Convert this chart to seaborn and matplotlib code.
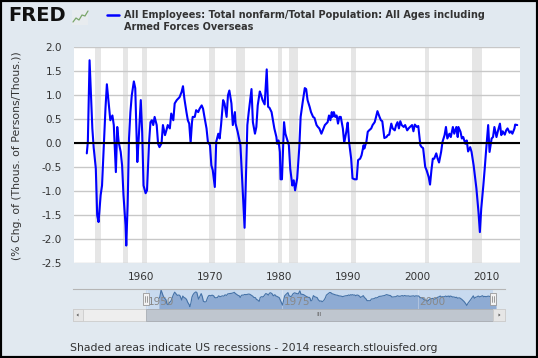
import matplotlib
matplotlib.use("Agg")
import matplotlib.pyplot as plt
import seaborn as sns
import pandas as pd
from matplotlib.patches import Rectangle, Polygon
from matplotlib.lines import Line2D

# ---------------- data ----------------
years = [
    1952.2, 1952.35, 1952.6, 1953.0, 1953.2, 1953.5, 1953.7, 1953.9, 1954.2, 1954.4,
    1954.7, 1954.9, 1955.1, 1955.4, 1955.6, 1955.9, 1956.1, 1956.3, 1956.4, 1956.6,
    1956.8, 1957.1, 1957.3, 1957.5, 1957.8, 1957.9, 1958.1, 1958.3, 1958.5, 1958.7,
    1959.0, 1959.2, 1959.5, 1959.7, 1960.0, 1960.2, 1960.4, 1960.7, 1960.9, 1961.2,
    1961.4, 1961.6, 1961.8, 1962.0, 1962.3, 1962.5, 1962.7, 1963.0, 1963.2, 1963.5,
    1963.7, 1963.9, 1964.2, 1964.4, 1964.7, 1964.9, 1965.2, 1965.4, 1965.6, 1965.9,
    1966.1, 1966.3, 1966.6, 1966.8, 1967.0, 1967.2, 1967.4, 1967.5, 1967.8, 1968.0,
    1968.3, 1968.5, 1968.8, 1969.0, 1969.2, 1969.5, 1969.7, 1970.0, 1970.2, 1970.4,
    1970.7, 1970.9, 1971.2, 1971.4, 1971.6, 1971.9, 1972.1, 1972.4, 1972.6, 1972.8,
    1973.1, 1973.3, 1973.6, 1973.7, 1974.0, 1974.1, 1974.4, 1974.6, 1974.8, 1975.0,
    1975.2, 1975.4, 1975.6, 1976.0, 1976.2, 1976.5, 1976.7, 1976.9, 1977.2, 1977.4,
    1977.6, 1977.9, 1978.2, 1978.4, 1978.6, 1978.9, 1979.1, 1979.3, 1979.6, 1979.7,
    1979.9, 1980.1, 1980.2, 1980.4, 1980.7, 1980.9, 1981.2, 1981.4, 1981.6, 1981.9,
    1982.1, 1982.3, 1982.6, 1982.9, 1983.1, 1983.4, 1983.7, 1983.9, 1984.1, 1984.4,
    1984.6, 1984.9, 1985.1, 1985.4, 1985.6, 1985.8, 1986.1, 1986.3, 1986.6, 1986.8,
    1987.0, 1987.2, 1987.4, 1987.6, 1987.7, 1987.9, 1988.1, 1988.3, 1988.5, 1988.7,
    1988.9, 1989.2, 1989.4, 1989.7, 1989.9, 1990.1, 1990.4, 1990.6, 1990.9, 1991.2,
    1991.4, 1991.7, 1991.9, 1992.2, 1992.3, 1992.6, 1992.8, 1993.0, 1993.3, 1993.5,
    1993.8, 1994.0, 1994.2, 1994.5, 1994.7, 1994.9, 1995.2, 1995.5, 1995.7, 1995.9,
    1996.2, 1996.4, 1996.7, 1996.9, 1997.1, 1997.3, 1997.5, 1997.7, 1998.0, 1998.2,
    1998.5, 1998.7, 1998.9, 1999.2, 1999.4, 1999.6, 1999.9, 2000.1, 2000.4, 2000.6,
    2000.8, 2001.1, 2001.3, 2001.6, 2001.8, 2002.0, 2002.2, 2002.4, 2002.7, 2002.9,
    2003.1, 2003.4, 2003.6, 2003.9, 2004.1, 2004.3, 2004.6, 2004.8, 2005.1, 2005.3,
    2005.6, 2005.8, 2005.9, 2006.2, 2006.4, 2006.6, 2006.9, 2007.1, 2007.3, 2007.6,
    2007.8, 2008.1, 2008.3, 2008.5, 2008.8, 2009.0, 2009.2, 2009.5, 2009.7, 2009.9,
    2010.2, 2010.4, 2010.7, 2010.9, 2011.1, 2011.4, 2011.6, 2011.9, 2012.1, 2012.3,
    2012.6, 2012.8, 2013.0, 2013.3, 2013.5, 2013.7, 2014.0, 2014.1, 2014.4,
]
values = [
    -0.21, 0.03, 1.73, 0.31, -0.10, -0.52, -1.50, -1.64, -1.08, -0.88,
    0.10, 0.73, 1.23, 0.79, 0.48, 0.58, 0.38, -0.25, -0.60, 0.34,
    0.03, -0.18, -0.46, -1.08, -1.71, -2.13, -1.29, 0.10, 0.65, 1.00,
    1.29, 1.15, -0.39, 0.10, 0.90, 0.24, -0.88, -1.04, -0.98, 0.03,
    0.44, 0.48, 0.38, 0.55, 0.38, -0.01, -0.08, 0.00, 0.38, 0.17,
    0.27, 0.38, 0.31, 0.62, 0.48, 0.83, 0.90, 0.93, 0.96, 1.07,
    1.19, 0.93, 0.65, 0.48, 0.41, 0.01, 0.44, 0.55, 0.55, 0.69,
    0.65, 0.72, 0.79, 0.72, 0.55, 0.31, 0.03, -0.04, -0.46, -0.56,
    -0.91, 0.03, 0.20, 0.10, 0.38, 0.90, 0.83, 0.55, 1.00, 1.10,
    0.83, 0.38, 0.65, 0.41, 0.24, 0.17, -0.04, -0.60, -1.15, -1.76,
    -0.73, 0.38, 0.65, 1.13, 0.44, 0.20, 0.34, 0.79, 1.08, 1.00,
    0.90, 0.81, 1.54, 0.76, 0.74, 0.65, 0.48, 0.31, 0.13, -0.01,
    0.06, -0.18, -0.75, -0.75, 0.44, 0.20, 0.06, -0.04, -0.53, -0.88,
    -0.77, -0.98, -0.73, -0.10, 0.55, 0.86, 1.15, 1.13, 0.90, 0.76,
    0.65, 0.55, 0.53, 0.38, 0.34, 0.31, 0.20, 0.27, 0.38, 0.41,
    0.44, 0.58, 0.48, 0.65, 0.55, 0.65, 0.55, 0.58, 0.41, 0.55,
    0.55, 0.31, 0.01, 0.24, 0.43, 0.03, -0.32, -0.73, -0.75, -0.75,
    -0.35, -0.32, -0.25, -0.04, -0.11, 0.03, 0.24, 0.27, 0.31, 0.38,
    0.44, 0.55, 0.67, 0.55, 0.48, 0.46, 0.11, 0.13, 0.17, 0.18,
    0.41, 0.31, 0.27, 0.38, 0.44, 0.31, 0.46, 0.38, 0.34, 0.38,
    0.27, 0.31, 0.34, 0.38, 0.25, 0.39, 0.34, 0.36, -0.04, -0.08,
    -0.10, -0.49, -0.56, -0.70, -0.86, -0.56, -0.32, -0.32, -0.21, -0.32,
    -0.40, -0.18, 0.03, 0.17, 0.34, 0.10, 0.20, 0.13, 0.34, 0.20,
    0.34, 0.13, 0.34, 0.24, 0.10, 0.13, -0.01, 0.06, -0.17, -0.08,
    -0.18, -0.46, -0.70, -0.94, -1.43, -1.85, -1.36, -0.88, -0.53, -0.15,
    0.38, -0.18, 0.10, 0.13, 0.34, 0.13, 0.25, 0.41, 0.17, 0.25,
    0.18, 0.27, 0.31, 0.22, 0.25, 0.20, 0.31, 0.39, 0.38,
]
rec_start = [1953.4, 1957.5, 1960.2, 1969.85, 1973.8, 1979.9, 1981.4, 1990.45, 2001.0, 2007.85]
rec_end   = [1954.2, 1958.1, 1960.9, 1970.7, 1975.0, 1980.4, 1982.7, 1991.1, 2001.6, 2009.3]
x_ticks = [1960, 1970, 1980, 1990, 2000, 2010]
y_ticks = [-2.5, -2.0, -1.5, -1.0, -0.5, 0.0, 0.5, 1.0, 1.5, 2.0]
nav_labels = [1950, 1975, 2000]

series_name = "All Employees: Total nonfarm/Total Population: All Ages including\nArmed Forces Overseas"
y_label = "(% Chg. of (Thous. of Persons/Thous.))"
footer = "Shaded areas indicate US recessions - 2014 research.stlouisfed.org"

df = pd.DataFrame({"year": years, "value": values})

# ---------------- style ----------------
sns.set_style("white")
plt.rcParams["font.family"] = ["DejaVu Sans"]
plt.rcParams["axes.unicode_minus"] = False

W, H = 538, 358
BG = "#e1e9f0"
TXT = "#333333"

def fx(px):
    return px / W

def fy(py):
    return 1 - py / H

fig = plt.figure(figsize=(W / 100, H / 100), dpi=100)
fig.patch.set_facecolor(BG)

# ---------------- main chart ----------------
L, R, T, B = 74, 520, 47.3, 263.3
ax = fig.add_axes([fx(L), fy(B), fx(R - L), (B - T) / H])
ax.set_facecolor("white")
for s0, s1 in zip(rec_start, rec_end):
    ax.axvspan(s0, s1, color="#e6e6e6", lw=0, zorder=0)
sns.lineplot(data=df, x="year", y="value", ax=ax, color="#0000ff",
             linewidth=1.5, estimator=None, sort=False, zorder=2)
ax.axhline(0, color="black", lw=1.5, zorder=3)
ax.set_xlim(1950.35, 2014.8)
ax.set_ylim(-2.5, 2.0)
ax.set_yticks(y_ticks)
ax.set_yticklabels([f"{v:.1f}" for v in y_ticks])
ax.set_xticks(x_ticks)
ax.yaxis.grid(True, color="#c8c8c8", lw=1, zorder=1)
ax.xaxis.grid(False)
for sp in ax.spines.values():
    sp.set_visible(False)
ax.tick_params(axis="y", length=0, pad=8.5, labelsize=7.5, labelcolor=TXT)
ax.tick_params(axis="x", length=4, width=1, color="#c0c0c0", pad=2,
               labelsize=7.5, labelcolor=TXT, direction="out")
ax.set_xlabel("")
ax.set_ylabel("")

fig.text(fx(17), fy(156), y_label, rotation=90, ha="center", va="center",
         fontsize=7.8, color=TXT)

# ---------------- header ----------------
fig.text(fx(8), fy(15.5), "FRED", fontsize=14, fontweight="heavy",
         color="#111111", ha="left", va="center")
# small logo icon
fig.patches.append(Rectangle((fx(72), fy(25)), fx(16), 15 / H, transform=fig.transFigure,
                             facecolor="#e8ecef", edgecolor="none"))
fig.lines.append(Line2D([fx(73), fx(76), fx(79), fx(82), fx(85), fx(88)],
                        [fy(22), fy(18), fy(20), fy(15), fy(16), fy(11)],
                        transform=fig.transFigure, color="#7aa66a", lw=0.9))
fig.lines.append(Line2D([fx(107), fx(119)], [fy(15), fy(15)],
                        transform=fig.transFigure, color="#0000ff", lw=1.8))
fig.text(fx(124), fy(9.5), series_name, fontsize=7.0, fontweight="bold",
         color=TXT, ha="left", va="top", linespacing=1.35)

# ---------------- navigator ----------------
NL, NR, NT, NB = 73, 505, 289, 309.3
nav = fig.add_axes([fx(NL), fy(NB), fx(NR - NL), (NB - NT) / H])
nav.set_facecolor("none")
nav.set_xlim(1936.35, 2016.05)
nav.set_ylim(-2.73, 1.96)
nav.axvspan(1949.8, 2013.9, color="#c8daef", lw=0, zorder=0)
nav.fill_between(df["year"], df["value"], -2.73, color="#8eabd3", lw=0, zorder=1)
sns.lineplot(data=df, x="year", y="value", ax=nav, color="#4572a7",
             linewidth=0.8, estimator=None, sort=False, zorder=2)
for yr in nav_labels:
    nav.axvline(yr, color="white", lw=0.6, alpha=0.35, zorder=1.5)
    nav.text(yr + 0.2, -1.1, str(yr), fontsize=7.5, color="#888888",
             ha="left", va="center", zorder=3)
nav.set_xticks([])
nav.set_yticks([])
nav.set_xlabel("")
nav.set_ylabel("")
for k, sp in nav.spines.items():
    sp.set_visible(k == "top")
nav.spines["top"].set_color("#b5b5b5")
nav.spines["top"].set_linewidth(0.8)

def frect(x0, y0, x1, y1, fc, ec="none", lw=0.6, z=5):
    fig.patches.append(Rectangle((fx(x0), fy(y1)), fx(x1 - x0), (y1 - y0) / H,
                                 transform=fig.transFigure, facecolor=fc,
                                 edgecolor=ec, lw=lw, zorder=z))

# scrollbar
frect(73, 309.3, 505, 320.7, "#eeeeee", "#cccccc")
frect(73, 309.3, 83, 320.7, "#e6e6e6", "#cccccc")
frect(146, 309.3, 493, 320.7, "#bfc6cf", "#a8adb3")
frect(493, 309.3, 505, 320.7, "#e6e6e6", "#cccccc")
fig.text(fx(319.5), fy(315), "III", fontsize=4.5, color="#666666",
         ha="center", va="center", zorder=6)
fig.patches.append(Polygon([(fx(76.5), fy(315)), (fx(78.5), fy(313.5)), (fx(78.5), fy(316.5))],
                           closed=True, transform=fig.transFigure, facecolor="#555555",
                           edgecolor="none", zorder=6))
fig.patches.append(Polygon([(fx(500.5), fy(315)), (fx(498.5), fy(313.5)), (fx(498.5), fy(316.5))],
                           closed=True, transform=fig.transFigure, facecolor="#555555",
                           edgecolor="none", zorder=6))
# handles
for hx in (146, 493):
    frect(hx - 3, 292.7, hx + 3, 304.5, "#f2f2f2", "#999999", lw=0.6, z=7)
    for dx in (-0.8, 0.8):
        fig.lines.append(Line2D([fx(hx + dx), fx(hx + dx)], [fy(295.5), fy(301.5)],
                                transform=fig.transFigure, color="#777777", lw=0.5, zorder=8))

# ---------------- footer & frame ----------------
fig.text(fx(70), fy(348.3), footer, fontsize=7.8, color=TXT, ha="left", va="center")
fig.patches.append(Rectangle((0, 0), 1, 1, transform=fig.transFigure, fill=False,
                             edgecolor="black", lw=3, zorder=10))

fig.savefig("out.png", dpi=100, facecolor=fig.get_facecolor())
